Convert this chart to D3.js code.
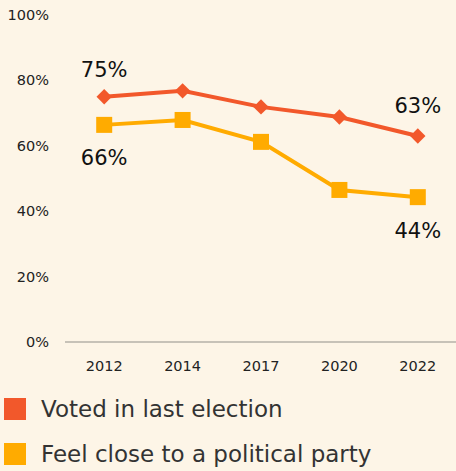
<!DOCTYPE html>
<html>
<head>
<meta charset="utf-8">
<script src="https://cdn.jsdelivr.net/npm/d3@7"></script>
<style>
  body { margin: 0; background: #fdf5e7; }
  text { font-family: "DejaVu Sans", sans-serif; }
</style>
</head>
<body>
<script>
// data
var years = ["2012", "2014", "2017", "2020", "2022"];
var voted = [75, 76.8, 71.9, 68.8, 63];
var feelClose = [66.4, 67.9, 61.2, 46.5, 44.3];
var yTicks = [0, 20, 40, 60, 80, 100];
var seriesNames = ["Voted in last election", "Feel close to a political party"];
var colors = ["#f2582b", "#ffab00"];

var W = 456, H = 471;
var svg = d3.select("body").append("svg")
	.attr("width", W)
	.attr("height", H)
	.style("background", "#fdf5e7");

var x = d3.scaleBand().domain(years).range([65, 457]);
var y = d3.scaleLinear().domain([0, 100]).range([342, 15]);

// y axis labels
svg.append("g").selectAll("text")
	.data(yTicks)
	.join("text")
	.attr("x", 49)
	.attr("y", d => y(d))
	.attr("dy", "0.35em")
	.attr("text-anchor", "end")
	.attr("font-size", 14.5)
	.attr("fill", "#222")
	.text(d => d + "%");

// baseline
svg.append("line")
	.attr("x1", 65).attr("x2", 456)
	.attr("y1", y(0)).attr("y2", y(0))
	.attr("stroke", "#b5b0a8")
	.attr("stroke-width", 1.5);

// x labels
svg.append("g").selectAll("text")
	.data(years)
	.join("text")
	.attr("x", d => x(d) + x.bandwidth() / 2)
	.attr("y", 371)
	.attr("text-anchor", "middle")
	.attr("font-size", 14.5)
	.attr("fill", "#222")
	.text(d => d);

var cx = d => x(d) + x.bandwidth() / 2;
var line = d3.line().x((d, i) => cx(years[i])).y(d => y(d));

// lines
[voted, feelClose].forEach(function(vals, k){
	svg.append("path")
		.datum(vals)
		.attr("d", line)
		.attr("fill", "none")
		.attr("stroke", colors[k])
		.attr("stroke-width", 4);
});

// markers
svg.append("g").selectAll("path")
	.data(voted)
	.join("path")
	.attr("d", d3.symbol(d3.symbolDiamond2, 150))
	.attr("transform", (d, i) => "translate(" + cx(years[i]) + "," + y(d) + ")")
	.attr("fill", colors[0]);

svg.append("g").selectAll("rect")
	.data(feelClose)
	.join("rect")
	.attr("x", (d, i) => cx(years[i]) - 8)
	.attr("y", d => y(d) - 8)
	.attr("width", 16)
	.attr("height", 16)
	.attr("fill", colors[1]);

// data labels at ends
var labels = [
	{v: voted[0], i: 0, dy: -20},
	{v: voted[4], i: 4, dy: -23},
	{v: feelClose[0], i: 0, dy: 40},
	{v: feelClose[4], i: 4, dy: 41}
];
svg.append("g").selectAll("text")
	.data(labels)
	.join("text")
	.attr("x", d => cx(years[d.i]))
	.attr("y", d => y(d.v) + d.dy)
	.attr("text-anchor", "middle")
	.attr("font-size", 21)
	.attr("fill", "#111")
	.text(d => Math.round(d.v) + "%");

// legend
var lg = svg.append("g").selectAll("g")
	.data(seriesNames)
	.join("g")
	.attr("transform", (d, i) => "translate(4," + (398 + i * 45) + ")");
lg.append("rect")
	.attr("width", 22).attr("height", 22)
	.attr("fill", (d, i) => colors[i]);
lg.append("text")
	.attr("x", 37)
	.attr("y", 19)
	.attr("font-size", 23)
	.attr("fill", "#333")
	.text(d => d);
</script>
</body>
</html>
